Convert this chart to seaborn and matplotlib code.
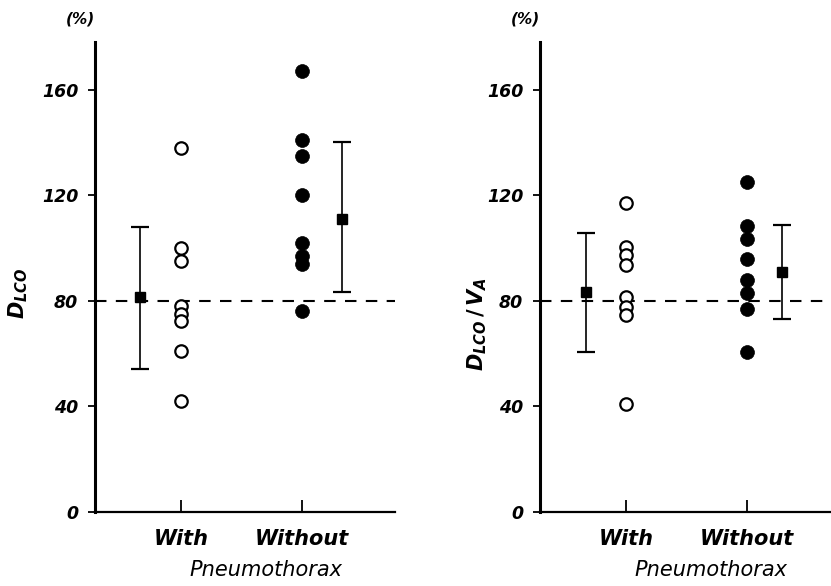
import pandas as pd
import matplotlib.pyplot as plt
import seaborn as sns

# values (% predicted)
groups = ['With', 'Without']
dlco_with = [138, 100, 95, 78, 75, 72.5, 61, 42]
dlco_without = [167, 141, 135, 120, 102, 97, 94, 76]
dlcova_with = [117, 100.5, 97.5, 93.5, 81.5, 77.5, 74.5, 41]
dlcova_without = [125, 108.5, 103.5, 96, 88, 83, 77, 60.5]

dlco_mean = [81.6, 111]
dlco_low = [54.3, 83.3]
dlco_high = [108, 140]
dlcova_mean = [83.3, 91]
dlcova_low = [60.7, 73.2]
dlcova_high = [105.5, 108.7]

yticks = [0, 40, 80, 120, 160]

sns.set_theme(style='white')
plt.rcParams['font.family'] = ['DejaVu Sans']
plt.rcParams['text.color'] = 'black'
plt.rcParams['axes.labelcolor'] = 'black'
plt.rcParams['xtick.color'] = 'black'
plt.rcParams['ytick.color'] = 'black'
plt.rcParams['mathtext.fontset'] = 'custom'
plt.rcParams['mathtext.it'] = 'DejaVu Sans:italic:bold'
plt.rcParams['mathtext.rm'] = 'DejaVu Sans:bold'
plt.rcParams['mathtext.bf'] = 'DejaVu Sans:bold'


def make_df(with_vals, without_vals):
    df = pd.DataFrame({
        'group': ['With'] * len(with_vals) + ['Without'] * len(without_vals),
        'value': with_vals + without_vals,
    })
    df['x'] = df['group'].map({g: i + 1 for i, g in enumerate(groups)})
    return df


def panel(ax, df, means, lows, highs, offsets, ylabel, label_xy):
    sns.scatterplot(data=df[df.group == 'With'], x='x', y='value', ax=ax,
                    color='white', edgecolor='black', linewidth=1.6, s=80,
                    zorder=3, legend=False)
    sns.scatterplot(data=df[df.group == 'Without'], x='x', y='value', ax=ax,
                    color='black', edgecolor='black', linewidth=0.5, s=100,
                    zorder=3, legend=False)
    for i in range(2):
        m = means[i]
        ax.errorbar(i + 1 + offsets[i], m, yerr=[[m - lows[i]], [highs[i] - m]],
                    fmt='s', ms=6.5, color='black', elinewidth=1.2,
                    capsize=6.5, capthick=1.6, zorder=4)
    ax.axhline(80, color='black', lw=1.5, dashes=(5.5, 4.5), zorder=2)

    ax.set_xlim(0.29, 2.77)
    ax.set_ylim(0, 178)
    ax.set_yticks(yticks)
    ax.set_yticklabels([str(t) for t in yticks], fontsize=12.5,
                       fontweight='bold', fontstyle='italic')
    ax.set_xticks([1, 2])
    ax.set_xticklabels(groups, fontsize=15, fontweight='bold', fontstyle='italic')
    ax.tick_params(axis='y', left=True, direction='out', length=5, width=1.3,
                   pad=7, colors='black')
    ax.tick_params(axis='x', bottom=True, direction='in', length=9, width=1.3,
                   pad=12, colors='black')
    for side in ['top', 'right']:
        ax.spines[side].set_visible(False)
    ax.spines['left'].set_linewidth(2.2)
    ax.spines['bottom'].set_linewidth(1.6)
    ax.spines['left'].set_color('black')
    ax.spines['bottom'].set_color('black')

    ax.set_xlabel('Pneumothorax', fontsize=15, fontstyle='italic')
    ax.xaxis.set_label_coords(0.57, -0.103)
    ax.set_ylabel(ylabel, fontsize=15)
    ax.yaxis.set_label_coords(*label_xy)
    ax.text(-0.05, 1.05, '(%)', transform=ax.transAxes, fontsize=11,
            fontweight='bold', fontstyle='italic', ha='center', va='center')


fig = plt.figure(figsize=(8.31, 5.86), dpi=100)
ax1 = fig.add_axes([95 / 831, 74 / 586, 300 / 831, 470 / 586])
ax2 = fig.add_axes([540 / 831, 74 / 586, 300 / 831, 470 / 586])

panel(ax1, make_df(dlco_with, dlco_without), dlco_mean, dlco_low, dlco_high,
      [-0.34, 0.33], r'$D_{LCO}$', (-0.215, 0.466))
panel(ax2, make_df(dlcova_with, dlcova_without), dlcova_mean, dlcova_low,
      dlcova_high, [-0.33, 0.29], r'$D_{LCO}\,/\,V_A$', (-0.17, 0.40))

fig.savefig('out.png', dpi=100)
